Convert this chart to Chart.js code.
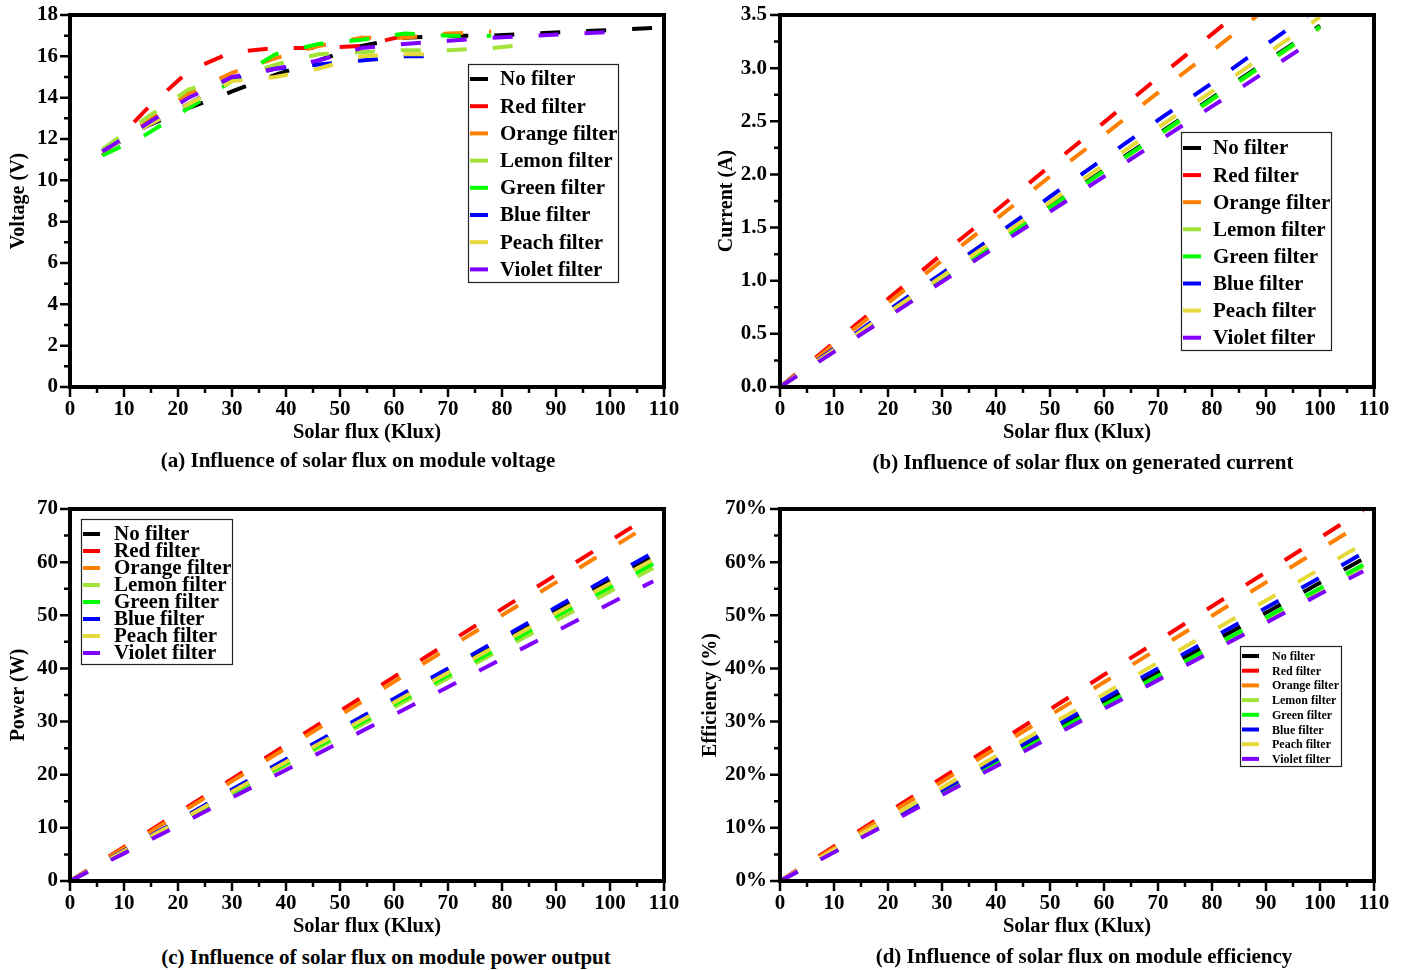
<!DOCTYPE html>
<html>
<head>
<meta charset="utf-8">
<title>Influence of solar flux with colour filters</title>
<script src="https://cdn.jsdelivr.net/npm/chart.js@4.4.0/dist/chart.umd.min.js"></script>
<style>
  body { margin: 0; background: #fff; width: 1406px; height: 970px; position: relative; overflow: hidden; font-family: "Liberation Serif", serif; }
  canvas { position: absolute; }
  .cap { position: absolute; font-weight: bold; font-size: 21px; white-space: nowrap; transform: translate(-50%, -50%); color: #000; }
</style>
</head>
<body>
<canvas id="cA" width="703" height="450" style="left:0;top:0"></canvas>
<canvas id="cB" width="716" height="450" style="left:690px;top:0"></canvas>
<canvas id="cC" width="703" height="450" style="left:0;top:494px"></canvas>
<canvas id="cD" width="716" height="450" style="left:690px;top:494px"></canvas>
<div class="cap" style="left:358px;top:460px">(a) Influence of solar flux on module voltage</div>
<div class="cap" style="left:1083px;top:462px">(b) Influence of solar flux on generated current</div>
<div class="cap" style="left:386px;top:957px">(c) Influence of solar flux on module power output</div>
<div class="cap" style="left:1084px;top:956px">(d) Influence of solar flux on module efficiency</div>
<script>
// series names + colours (legend order)
const filterNames = ['No filter', 'Red filter', 'Orange filter', 'Lemon filter', 'Green filter', 'Blue filter', 'Peach filter', 'Violet filter'];
const filterColors = ['#000000', '#ff0000', '#ff8000', '#a2e33a', '#00ff00', '#0000ff', '#e6d93c', '#8000ff'];

// (a) module voltage (V)
const fluxA = [6, 14, 22, 30, 38, 46, 54, 62, 70, 78, 86, 94, 102, 110];
const noFilterV = [11.4, 12.6, 13.5, 14.3, 15.1, 15.8, 16.5, 16.9, 17.0, 17.0, 17.1, 17.2, 17.3, 17.4];
const redV = [11.2, 13.4, 15.3, 16.2, 16.4, 16.4, 16.5, 17.0, null, null, null, null, null, null];
const orangeV = [11.4, 12.8, 14.2, 15.2, 15.9, 16.5, 16.9, 16.9, 17.1, 17.2, null, null, null, null];
const lemonV = [11.5, 13.0, 14.4, 14.9, 15.6, 16.1, 16.2, 16.3, 16.3, 16.4, 16.6, null, null, null];
const greenV = [11.2, 12.2, 13.5, 14.8, 16.1, 16.6, 16.8, 17.1, 17.0, 17.0, null, null, null, null];
const blueV = [11.4, 12.6, 13.7, 14.9, 15.4, 15.6, 15.8, 16.0, 16.0, null, null, null, null, null];
const peachV = [11.4, 12.6, 13.7, 14.8, 15.0, 15.4, 16.0, 16.1, 16.1, null, null, null, null, null];
const violetV = [11.4, 12.7, 14.0, 15.0, 15.4, 15.8, 16.4, 16.6, 16.75, 16.9, 17.0, 17.1, 17.2, null];

// (b) generated current (A)
const fluxB = [0, 10, 20, 30, 40, 50, 60, 70, 80, 90, 100];
const noFilterI = [0, 0.34, 0.68, 1.02, 1.36, 1.70, 2.04, 2.38, 2.72, 3.06, 3.40];
const redI = [0, 0.42, 0.83, 1.25, 1.66, 2.08, 2.49, 2.91, 3.32, 3.74, 4.15];
const orangeI = [0, 0.40, 0.79, 1.19, 1.58, 1.98, 2.37, 2.77, 3.16, 3.56, 3.95];
const lemonI = [0, 0.34, 0.67, 1.01, 1.35, 1.69, 2.03, 2.36, 2.70, 3.04, 3.38];
const greenI = [0, 0.34, 0.68, 1.01, 1.35, 1.69, 2.03, 2.37, 2.71, 3.05, 3.39];
const blueI = [0, 0.36, 0.72, 1.07, 1.43, 1.79, 2.15, 2.51, 2.86, 3.22, 3.58];
const peachI = [0, 0.35, 0.70, 1.04, 1.39, 1.74, 2.09, 2.44, 2.78, 3.13, 3.48];
const violetI = [0, 0.33, 0.66, 0.99, 1.32, 1.65, 1.98, 2.31, 2.64, 2.97, 3.30];

// (c) power output (W)
const fluxC = [0, 10, 20, 30, 40, 50, 60, 70, 80, 90, 100, 108];
const noFilterP = [0, 5.6, 11.3, 17.0, 22.6, 28.2, 33.9, 39.6, 45.2, 50.8, 56.5, 61.0];
const redP = [0, 6.4, 12.8, 19.2, 25.6, 32.0, 38.4, 44.8, 51.2, 57.6, 64.0, 69.1];
const orangeP = [0, 6.2, 12.5, 18.8, 25.0, 31.2, 37.5, 43.8, 50.0, 56.2, 62.5, 67.5];
const lemonP = [0, 5.4, 10.9, 16.4, 21.8, 27.2, 32.7, 38.2, 43.6, 49.0, 54.5, 58.9];
const greenP = [0, 5.5, 11.1, 16.6, 22.1, 27.6, 33.2, 38.7, 44.2, 49.8, 55.3, 59.7];
const blueP = [0, 5.7, 11.4, 17.2, 22.9, 28.6, 34.3, 40.0, 45.8, 51.5, 57.2, 61.8];
const peachP = [0, 5.6, 11.2, 16.8, 22.4, 28.0, 33.6, 39.2, 44.8, 50.4, 56.0, 60.5];
const violetP = [0, 5.2, 10.4, 15.7, 20.9, 26.1, 31.3, 36.5, 41.8, 47.0, 52.2, 56.4];

// (d) module efficiency (%)
const fluxD = [0, 10, 20, 30, 40, 50, 60, 70, 80, 90, 100, 108];
const noFilterE = [0, 5.6, 11.2, 16.8, 22.4, 28.0, 33.7, 39.3, 44.9, 50.5, 56.1, 60.6];
const redE = [0, 6.5, 12.9, 19.4, 25.8, 32.3, 38.8, 45.2, 51.7, 58.1, 64.6, 69.8];
const orangeE = [0, 6.2, 12.5, 18.7, 25.0, 31.2, 37.4, 43.7, 49.9, 56.2, 62.4, 67.4];
const lemonE = [0, 5.5, 11.0, 16.4, 21.9, 27.4, 32.9, 38.4, 43.8, 49.3, 54.8, 59.2];
const greenE = [0, 5.5, 11.0, 16.5, 22.0, 27.6, 33.1, 38.6, 44.1, 49.6, 55.1, 59.5];
const blueE = [0, 5.7, 11.4, 17.1, 22.8, 28.6, 34.3, 40.0, 45.7, 51.4, 57.1, 61.7];
const peachE = [0, 5.9, 11.7, 17.6, 23.5, 29.4, 35.2, 41.1, 47.0, 52.8, 58.7, 63.4];
const violetE = [0, 5.4, 10.8, 16.2, 21.6, 27.0, 32.4, 37.8, 43.2, 48.6, 54.0, 58.3];

const FONT = '"Liberation Serif", serif';

// thick frame + outward major/minor ticks
const frameTicks = {
  id: 'frameTicks',
  afterDatasetsDraw(chart, args, o) {
    const { ctx, chartArea: a, scales: { x, y } } = chart;
    const isMajor = (v, step) => Math.abs(v / step - Math.round(v / step)) < 1e-6;
    ctx.save();
    ctx.strokeStyle = '#000';
    ctx.lineWidth = 2.5;
    ctx.beginPath();
    for (let v = x.min; v <= x.max + 1e-9; v += o.xMinor) {
      const px = x.getPixelForValue(v);
      const len = isMajor(v, o.xMajor) ? 10 : 6;
      ctx.moveTo(px, a.bottom);
      ctx.lineTo(px, a.bottom + len);
    }
    for (let v = y.min; v <= y.max + 1e-9; v += o.yMinor) {
      const py = y.getPixelForValue(v);
      const len = isMajor(v, o.yMajor) ? 10 : 6;
      ctx.moveTo(a.left, py);
      ctx.lineTo(a.left - len, py);
    }
    ctx.stroke();
    ctx.lineWidth = 4;
    ctx.strokeRect(a.left, a.top, a.right - a.left, a.bottom - a.top);
    ctx.restore();
  }
};

// boxed legend placed inside the plot
const boxLegend = {
  id: 'boxLegend',
  afterDraw(chart, args, o) {
    const ctx = chart.ctx;
    ctx.save();
    ctx.fillStyle = '#fff';
    ctx.fillRect(o.x, o.y, o.w, o.h);
    ctx.strokeStyle = '#222';
    ctx.lineWidth = 1.2;
    ctx.strokeRect(o.x + 0.5, o.y + 0.5, o.w, o.h);
    ctx.font = 'bold ' + o.size + 'px ' + FONT;
    ctx.textBaseline = 'middle';
    filterNames.forEach((name, i) => {
      const cy = o.y + o.first + i * o.step;
      ctx.strokeStyle = filterColors[i];
      ctx.lineWidth = o.lw;
      ctx.beginPath();
      ctx.moveTo(o.x + 2, cy);
      ctx.lineTo(o.x + 2 + o.sample, cy);
      ctx.stroke();
      ctx.fillStyle = '#000';
      ctx.fillText(name, o.x + o.tx, cy + 1);
    });
    ctx.restore();
  }
};

function buildPanel(id, flux, series, opt) {
  const datasets = series.map((vals, i) => ({
    label: filterNames[i],
    data: flux.map((f, k) => ({ x: f, y: vals[k] })),
    borderColor: filterColors[i],
    borderWidth: 4,
    borderDash: [20, 26],
    borderCapStyle: 'butt',
    pointRadius: 0,
    fill: false,
    tension: 0,
    spanGaps: false,
    order: series.length - i
  }));

  return new Chart(document.getElementById(id), {
    type: 'line',
    data: { datasets },
    options: {
      responsive: false,
      animation: false,
      layout: { padding: { top: 15, right: opt.padRight, left: 0, bottom: 0 } },
      plugins: {
        legend: { display: false },
        tooltip: { enabled: false },
        frameTicks: { xMajor: 10, xMinor: 5, yMajor: opt.yStep, yMinor: opt.yStep / 2 },
        boxLegend: opt.legend
      },
      scales: {
        x: {
          type: 'linear',
          min: 0,
          max: 110,
          afterFit: s => { s.height = 63; s.paddingLeft = 0; s.paddingRight = 0; },
          grid: { display: false, drawTicks: false },
          border: { display: false },
          ticks: { stepSize: 10, padding: 10, color: '#000', maxRotation: 0, autoSkip: false,
                   font: { family: FONT, size: 21, weight: 'bold' } },
          title: { display: true, text: 'Solar flux (Klux)', color: '#000',
                   font: { family: FONT, size: 20.5, weight: 'bold' }, padding: { top: 0, bottom: 5 } }
        },
        y: {
          type: 'linear',
          min: 0,
          max: opt.yMax,
          afterFit: s => { s.width = opt.yWidth; s.paddingTop = 0; s.paddingBottom = 0; },
          grid: { display: false, drawTicks: false },
          border: { display: false },
          ticks: { stepSize: opt.yStep, padding: opt.yPad, color: '#000', autoSkip: false,
                   font: { family: FONT, size: 21, weight: 'bold' }, callback: opt.fmt },
          title: { display: true, text: opt.yTitle, color: '#000',
                   font: { family: FONT, size: 20, weight: 'bold' }, padding: { top: opt.yTitlePad, bottom: 0 } }
        }
      }
    },
    plugins: [frameTicks, boxLegend]
  });
}

buildPanel('cA', fluxA, [noFilterV, redV, orangeV, lemonV, greenV, blueV, peachV, violetV], {
  yMax: 18, yStep: 2, yWidth: 70, yPad: 12, padRight: 39, yTitle: 'Voltage (V)', yTitlePad: 7,
  fmt: v => v,
  legend: { x: 468, y: 64, w: 150, h: 218, first: 15, step: 27.2, tx: 32, sample: 18, lw: 4, size: 21 }
});

buildPanel('cB', fluxB, [noFilterI, redI, orangeI, lemonI, greenI, blueI, peachI, violetI], {
  yMax: 3.5, yStep: 0.5, yWidth: 90, yPad: 13, padRight: 32, yTitle: 'Current (A)', yTitlePad: 25,
  fmt: v => v.toFixed(1),
  legend: { x: 491, y: 132, w: 150, h: 218, first: 16, step: 27.1, tx: 32, sample: 18, lw: 4, size: 21 }
});

buildPanel('cC', fluxC, [noFilterP, redP, orangeP, lemonP, greenP, blueP, peachP, violetP], {
  yMax: 70, yStep: 10, yWidth: 70, yPad: 12, padRight: 39, yTitle: 'Power (W)', yTitlePad: 7,
  fmt: v => v,
  legend: { x: 81, y: 25, w: 151, h: 145, first: 15, step: 17, tx: 33, sample: 17, lw: 4, size: 21 }
});

buildPanel('cD', fluxD, [noFilterE, redE, orangeE, lemonE, greenE, blueE, peachE, violetE], {
  yMax: 70, yStep: 10, yWidth: 90, yPad: 13, padRight: 32, yTitle: 'Efficiency (%)', yTitlePad: 9,
  fmt: v => v + '%',
  legend: { x: 550, y: 152, w: 101, h: 120, first: 10, step: 14.7, tx: 32, sample: 17, lw: 4, size: 12 }
});
</script>
</body>
</html>
